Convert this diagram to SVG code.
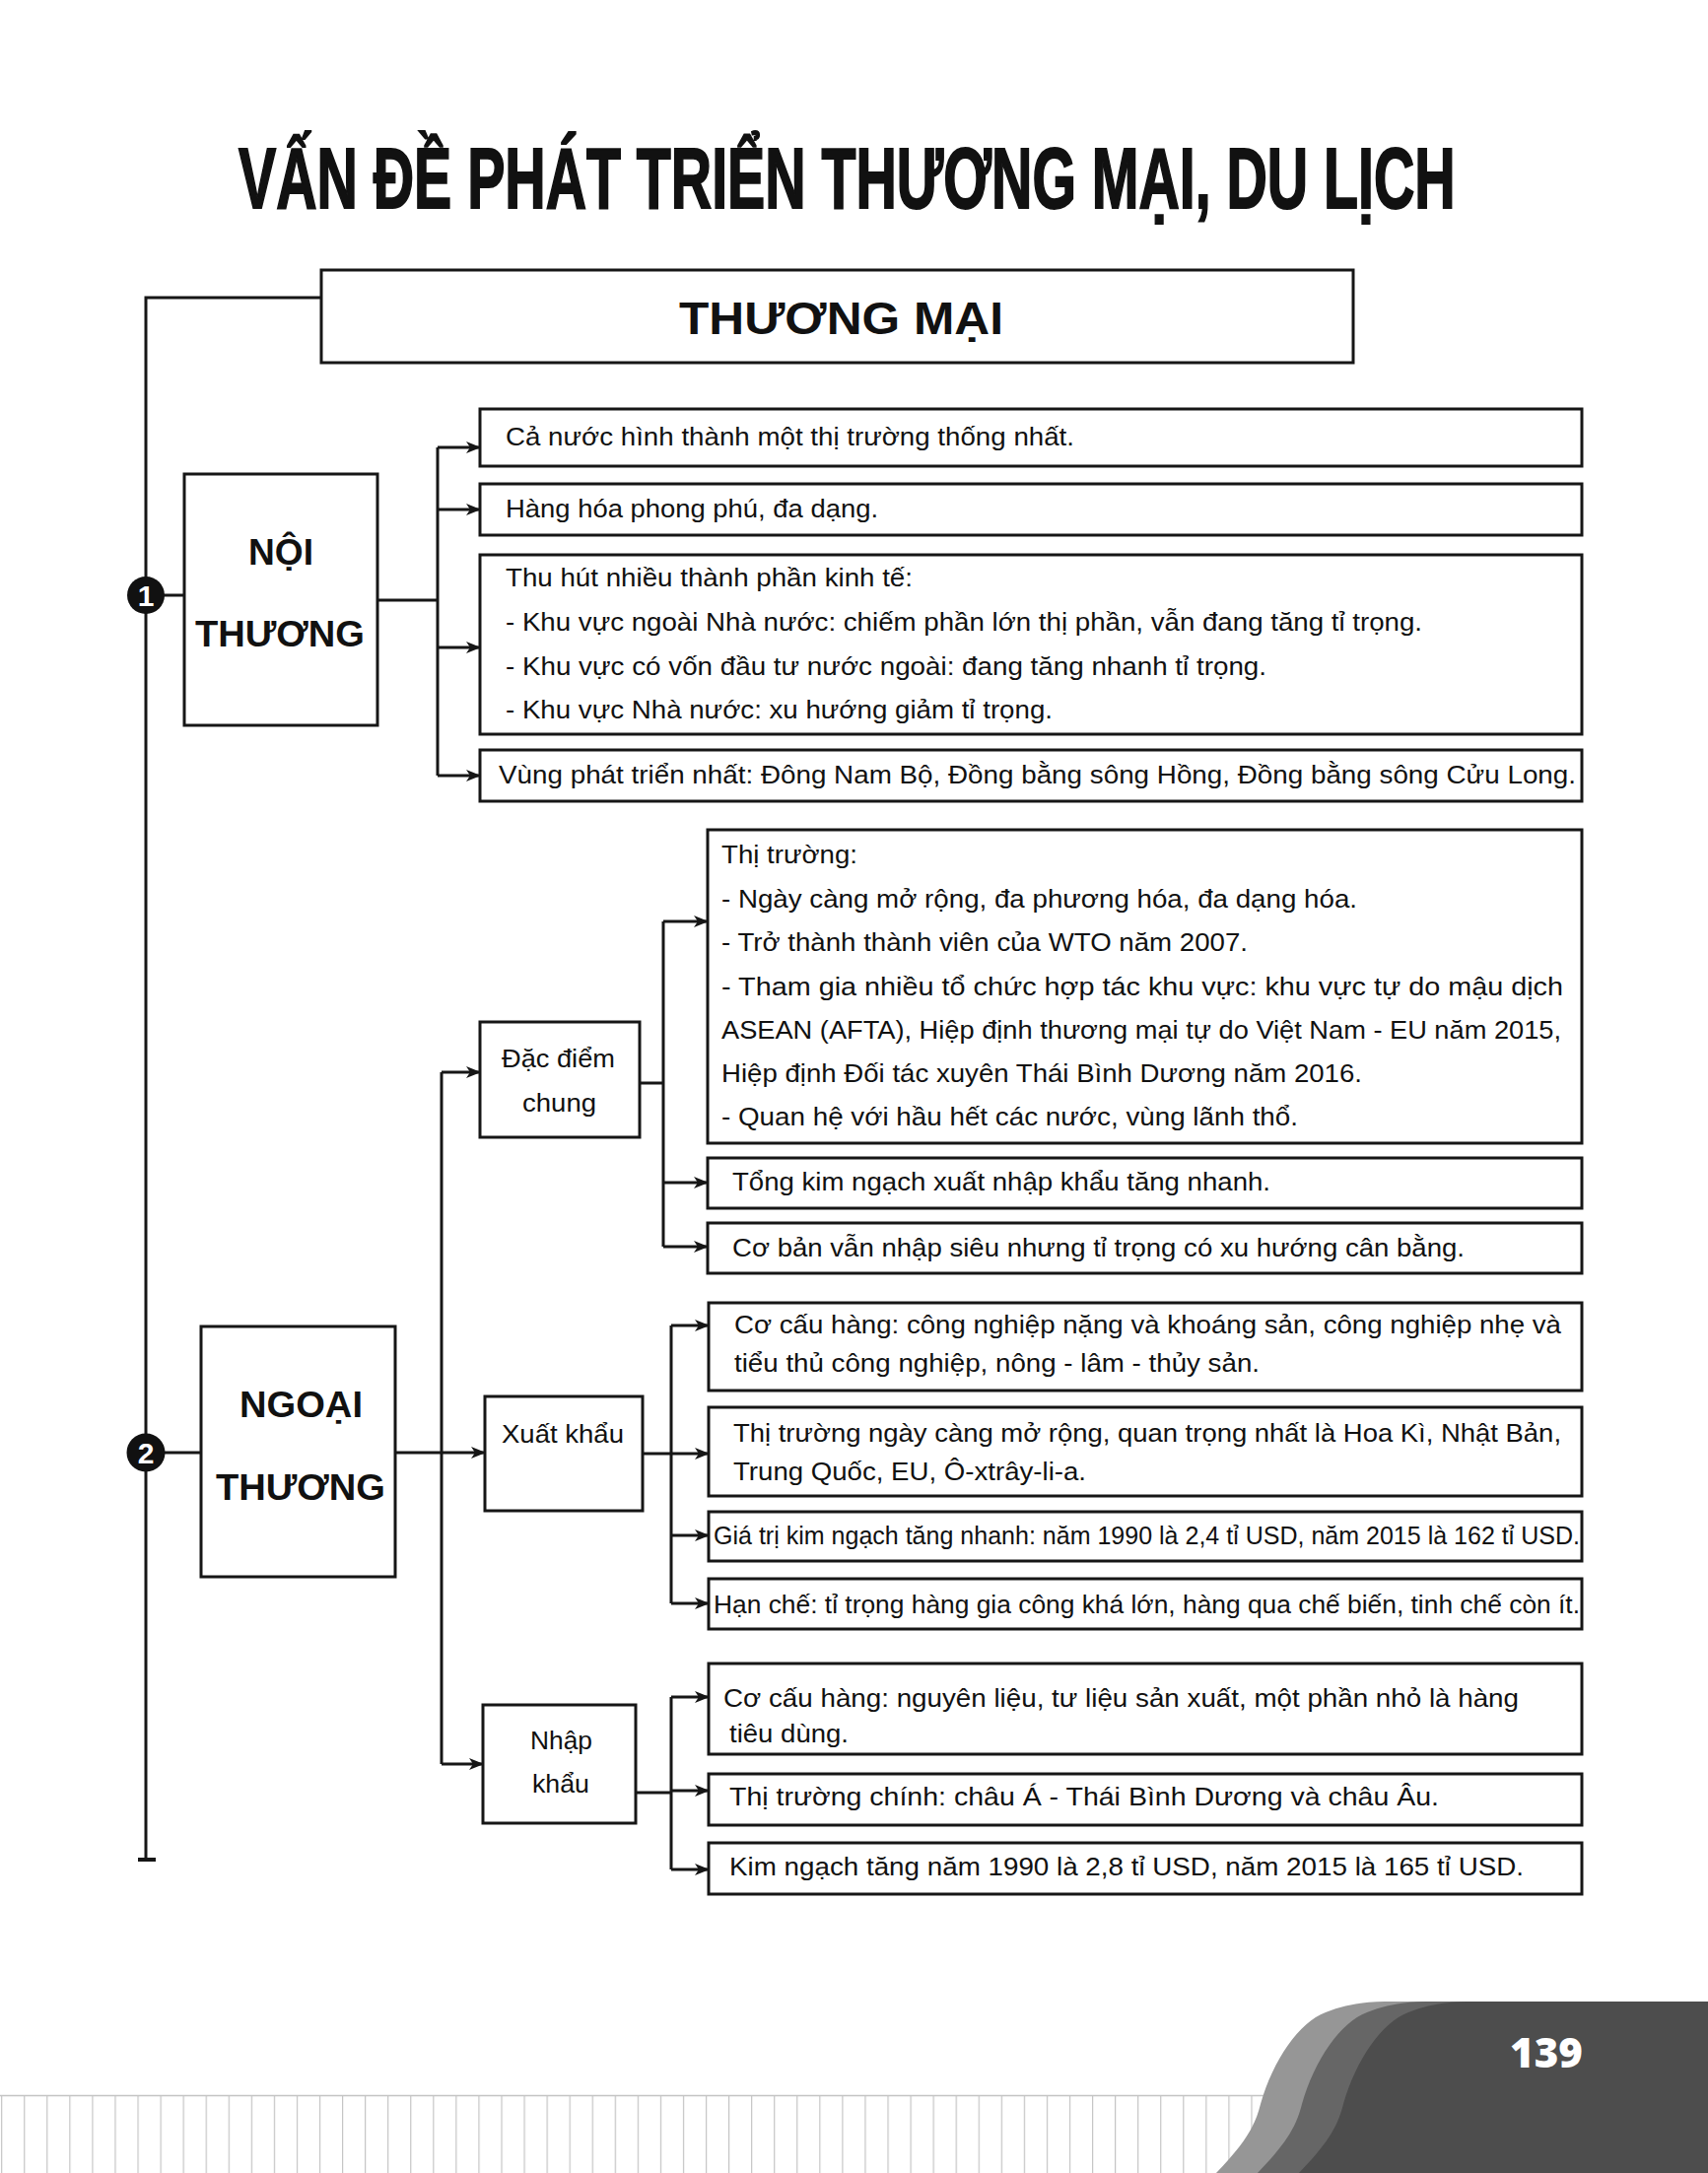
<svg xmlns="http://www.w3.org/2000/svg" width="1733" height="2205" viewBox="0 0 1733 2205">
<defs>
<style>
.box{fill:#fff;stroke:#161616;stroke-width:3}
.ln{fill:none;stroke:#161616;stroke-width:3}
.ar{fill:none;stroke:#161616;stroke-width:3;marker-end:url(#ah)}
.t{font-family:"Liberation Sans",Arial,sans-serif;font-size:26px;fill:#111}
.b{font-family:"Liberation Sans",Arial,sans-serif;font-weight:bold;fill:#111}
.c{text-anchor:middle}
</style>
<marker id="ah" markerUnits="userSpaceOnUse" markerWidth="16" markerHeight="14" refX="14" refY="7" orient="auto">
<path d="M0,1 L15,7 L0,13 L4,7 Z" fill="#161616"/>
</marker>
<pattern id="grid" x="1.1" y="2126" width="23.06" height="79" patternUnits="userSpaceOnUse">
<line x1="0.6" y1="0" x2="0.6" y2="79" stroke="#c4c4c4" stroke-width="1.2"/>
</pattern>
</defs>
<rect width="1733" height="2205" fill="#fff"/>

<!-- footer -->
<g id="footer">
<rect x="0" y="2126" width="1320" height="79" fill="url(#grid)"/>
<line x1="0" y1="2126.5" x2="1300" y2="2126.5" stroke="#c4c4c4" stroke-width="1.5"/>
<path d="M1234,2205 C1260,2178 1273,2160 1279,2135 C1292,2090 1318,2052 1345,2042 C1365,2034 1385,2031 1405,2031 L1733,2031 L1733,2205 Z" fill="#969696"/>
<path transform="translate(42,0)" d="M1234,2205 C1260,2178 1273,2160 1279,2135 C1292,2090 1318,2052 1345,2042 C1365,2034 1385,2031 1405,2031 L1733,2031 L1733,2205 Z" fill="#666"/>
<path transform="translate(84,0)" d="M1234,2205 C1260,2178 1273,2160 1279,2135 C1292,2090 1318,2052 1345,2042 C1365,2034 1385,2031 1405,2031 L1733,2031 L1733,2205 Z" fill="#4d4d4d"/>
<text x="1569" y="2098" class="c" style="font-family:'Open Sans','Liberation Sans',sans-serif;font-weight:800;font-size:42px;fill:#fff">139</text>
</g>

<g id="title" transform="scale(0.684,1)">
<text x="353.8" y="211" class="b" font-size="88" textLength="1805" lengthAdjust="spacingAndGlyphs" stroke="#111" stroke-width="2">VẤN ĐỀ PHÁT TRIỂN THƯƠNG MẠI, DU LỊCH</text>
</g>

<!-- connectors -->
<g id="connectors">
<path class="ln" d="M148,1887 V302 H326"/>
<line x1="140" y1="1887" x2="158" y2="1887" stroke="#161616" stroke-width="4"/>
<line class="ln" x1="148" y1="604" x2="187" y2="604"/>
<line class="ln" x1="148" y1="1474" x2="204" y2="1474"/>
<path class="ln" d="M383,609 H444 M444,454 V787"/>
<path class="ar" d="M444,454 H487"/>
<path class="ar" d="M444,517 H487"/>
<path class="ar" d="M444,657 H487"/>
<path class="ar" d="M444,787 H487"/>
<path class="ar" d="M401,1474 H492"/>
<path class="ln" d="M448,1088 V1790"/>
<path class="ar" d="M448,1088 H487"/>
<path class="ar" d="M448,1790 H490"/>
<path class="ln" d="M649,1099 H673 M673,935 V1265"/>
<path class="ar" d="M673,935 H718"/>
<path class="ar" d="M673,1200 H718"/>
<path class="ar" d="M673,1265 H718"/>
<path class="ln" d="M652,1475 H681 M681,1345 V1627"/>
<path class="ar" d="M681,1345 H719"/>
<path class="ar" d="M681,1475 H719"/>
<path class="ar" d="M681,1558 H719"/>
<path class="ar" d="M681,1627 H719"/>
<path class="ln" d="M645,1819 H681 M681,1722 V1897"/>
<path class="ar" d="M681,1722 H719"/>
<path class="ar" d="M681,1817 H719"/>
<path class="ar" d="M681,1897 H719"/>
</g>

<g id="n-thuongmai">
<rect class="box" x="326" y="274" width="1047" height="94"/>
<text x="689" y="339" class="b" font-size="46" textLength="329" lengthAdjust="spacingAndGlyphs">THƯƠNG MẠI</text>
</g>

<g id="badge1">
<circle cx="148" cy="604" r="19" fill="#111"/>
<text x="148" y="615" class="b c" font-size="30" style="fill:#fff">1</text>
</g>
<g id="badge2">
<circle cx="148" cy="1474" r="19.5" fill="#111"/>
<text x="148" y="1485" class="b c" font-size="30" style="fill:#fff">2</text>
</g>

<g id="n-noithuong">
<rect class="box" x="187" y="481" width="196" height="255"/>
<text x="252" y="573" class="b" font-size="37" textLength="66" lengthAdjust="spacingAndGlyphs">NỘI</text>
<text x="198" y="656" class="b" font-size="37" textLength="172" lengthAdjust="spacingAndGlyphs">THƯƠNG</text>
</g>

<g id="n-nt1">
<rect class="box" x="487" y="415" width="1118" height="58"/>
<text x="513" y="452" class="t" textLength="577" lengthAdjust="spacingAndGlyphs">Cả nước hình thành một thị trường thống nhất.</text>
</g>
<g id="n-nt2">
<rect class="box" x="487" y="491" width="1118" height="52"/>
<text x="513" y="525" class="t" textLength="378" lengthAdjust="spacingAndGlyphs">Hàng hóa phong phú, đa dạng.</text>
</g>
<g id="n-nt3">
<rect class="box" x="487" y="563" width="1118" height="182"/>
<text x="513" y="595" class="t" textLength="413" lengthAdjust="spacingAndGlyphs">Thu hút nhiều thành phần kinh tế:</text>
<text x="513" y="640" class="t" textLength="930" lengthAdjust="spacingAndGlyphs">- Khu vực ngoài Nhà nước: chiếm phần lớn thị phần, vẫn đang tăng tỉ trọng.</text>
<text x="513" y="685" class="t" textLength="772" lengthAdjust="spacingAndGlyphs">- Khu vực có vốn đầu tư nước ngoài: đang tăng nhanh tỉ trọng.</text>
<text x="513" y="729" class="t" textLength="555" lengthAdjust="spacingAndGlyphs">- Khu vực Nhà nước: xu hướng giảm tỉ trọng.</text>
</g>
<g id="n-nt4">
<rect class="box" x="487" y="761" width="1118" height="52"/>
<text x="506" y="795" class="t" textLength="1093" lengthAdjust="spacingAndGlyphs">Vùng phát triển nhất: Đông Nam Bộ, Đồng bằng sông Hồng, Đồng bằng sông Cửu Long.</text>
</g>

<g id="n-ngoaithuong">
<rect class="box" x="204" y="1346" width="197" height="254"/>
<text x="243" y="1438" class="b" font-size="37" textLength="125" lengthAdjust="spacingAndGlyphs">NGOẠI</text>
<text x="219" y="1522" class="b" font-size="37" textLength="172" lengthAdjust="spacingAndGlyphs">THƯƠNG</text>
</g>

<g id="n-dacdiem">
<rect class="box" x="487" y="1037" width="162" height="117"/>
<text x="509" y="1083" class="t" font-size="28" textLength="115" lengthAdjust="spacingAndGlyphs">Đặc điểm</text>
<text x="530" y="1128" class="t" textLength="75" lengthAdjust="spacingAndGlyphs">chung</text>
</g>
<g id="n-thitruong">
<rect class="box" x="718" y="842" width="887" height="318"/>
<text x="732" y="876" class="t" textLength="138" lengthAdjust="spacingAndGlyphs">Thị trường:</text>
<text x="732" y="921" class="t" textLength="645" lengthAdjust="spacingAndGlyphs">- Ngày càng mở rộng, đa phương hóa, đa dạng hóa.</text>
<text x="732" y="965" class="t" textLength="534" lengthAdjust="spacingAndGlyphs">- Trở thành thành viên của WTO năm 2007.</text>
<text x="732" y="1010" class="t" textLength="854" lengthAdjust="spacingAndGlyphs">- Tham gia nhiều tổ chức hợp tác khu vực: khu vực tự do mậu dịch</text>
<text x="732" y="1054" class="t" textLength="852" lengthAdjust="spacingAndGlyphs">ASEAN (AFTA), Hiệp định thương mại tự do Việt Nam - EU năm 2015,</text>
<text x="732" y="1098" class="t" textLength="650" lengthAdjust="spacingAndGlyphs">Hiệp định Đối tác xuyên Thái Bình Dương năm 2016.</text>
<text x="732" y="1142" class="t" textLength="585" lengthAdjust="spacingAndGlyphs">- Quan hệ với hầu hết các nước, vùng lãnh thổ.</text>
</g>
<g id="n-tongkim">
<rect class="box" x="718" y="1175" width="887" height="51"/>
<text x="743" y="1208" class="t" textLength="546" lengthAdjust="spacingAndGlyphs">Tổng kim ngạch xuất nhập khẩu tăng nhanh.</text>
</g>
<g id="n-coban">
<rect class="box" x="718" y="1241" width="887" height="51"/>
<text x="743" y="1275" class="t" textLength="743" lengthAdjust="spacingAndGlyphs">Cơ bản vẫn nhập siêu nhưng tỉ trọng có xu hướng cân bằng.</text>
</g>

<g id="n-xuatkhau">
<rect class="box" x="492" y="1417" width="160" height="116"/>
<text x="509" y="1464" class="t" font-size="28" textLength="124" lengthAdjust="spacingAndGlyphs">Xuất khẩu</text>
</g>
<g id="n-xk1">
<rect class="box" x="719" y="1322" width="886" height="89"/>
<text x="745" y="1353" class="t" textLength="839" lengthAdjust="spacingAndGlyphs">Cơ cấu hàng: công nghiệp nặng và khoáng sản, công nghiệp nhẹ và</text>
<text x="745" y="1392" class="t" textLength="533" lengthAdjust="spacingAndGlyphs">tiểu thủ công nghiệp, nông - lâm - thủy sản.</text>
</g>
<g id="n-xk2">
<rect class="box" x="719" y="1428" width="886" height="90"/>
<text x="744" y="1463" class="t" textLength="840" lengthAdjust="spacingAndGlyphs">Thị trường ngày càng mở rộng, quan trọng nhất là Hoa Kì, Nhật Bản,</text>
<text x="744" y="1502" class="t" textLength="358" lengthAdjust="spacingAndGlyphs">Trung Quốc, EU, Ô-xtrây-li-a.</text>
</g>
<g id="n-xk3">
<rect class="box" x="719" y="1534" width="886" height="50"/>
<text x="724" y="1567" class="t" textLength="879" lengthAdjust="spacingAndGlyphs">Giá trị kim ngạch tăng nhanh: năm 1990 là 2,4 tỉ USD, năm 2015 là 162 tỉ USD.</text>
</g>
<g id="n-xk4">
<rect class="box" x="719" y="1602" width="886" height="51"/>
<text x="724" y="1637" class="t" textLength="879" lengthAdjust="spacingAndGlyphs">Hạn chế: tỉ trọng hàng gia công khá lớn, hàng qua chế biến, tinh chế còn ít.</text>
</g>

<g id="n-nhapkhau">
<rect class="box" x="490" y="1730" width="155" height="120"/>
<text x="538" y="1775" class="t" font-size="28" textLength="63" lengthAdjust="spacingAndGlyphs">Nhập</text>
<text x="540" y="1819" class="t" font-size="28" textLength="58" lengthAdjust="spacingAndGlyphs">khẩu</text>
</g>
<g id="n-nk1">
<rect class="box" x="719" y="1688" width="886" height="92"/>
<text x="734" y="1732" class="t" textLength="807" lengthAdjust="spacingAndGlyphs">Cơ cấu hàng: nguyên liệu, tư liệu sản xuất, một phần nhỏ là hàng</text>
<text x="740" y="1768" class="t" textLength="121" lengthAdjust="spacingAndGlyphs">tiêu dùng.</text>
</g>
<g id="n-nk2">
<rect class="box" x="719" y="1800" width="886" height="52"/>
<text x="740" y="1832" class="t" textLength="720" lengthAdjust="spacingAndGlyphs">Thị trường chính: châu Á - Thái Bình Dương và châu Âu.</text>
</g>
<g id="n-nk3">
<rect class="box" x="719" y="1870" width="886" height="52"/>
<text x="740" y="1903" class="t" textLength="806" lengthAdjust="spacingAndGlyphs">Kim ngạch tăng năm 1990 là 2,8 tỉ USD, năm 2015 là 165 tỉ USD.</text>
</g>
</svg>
